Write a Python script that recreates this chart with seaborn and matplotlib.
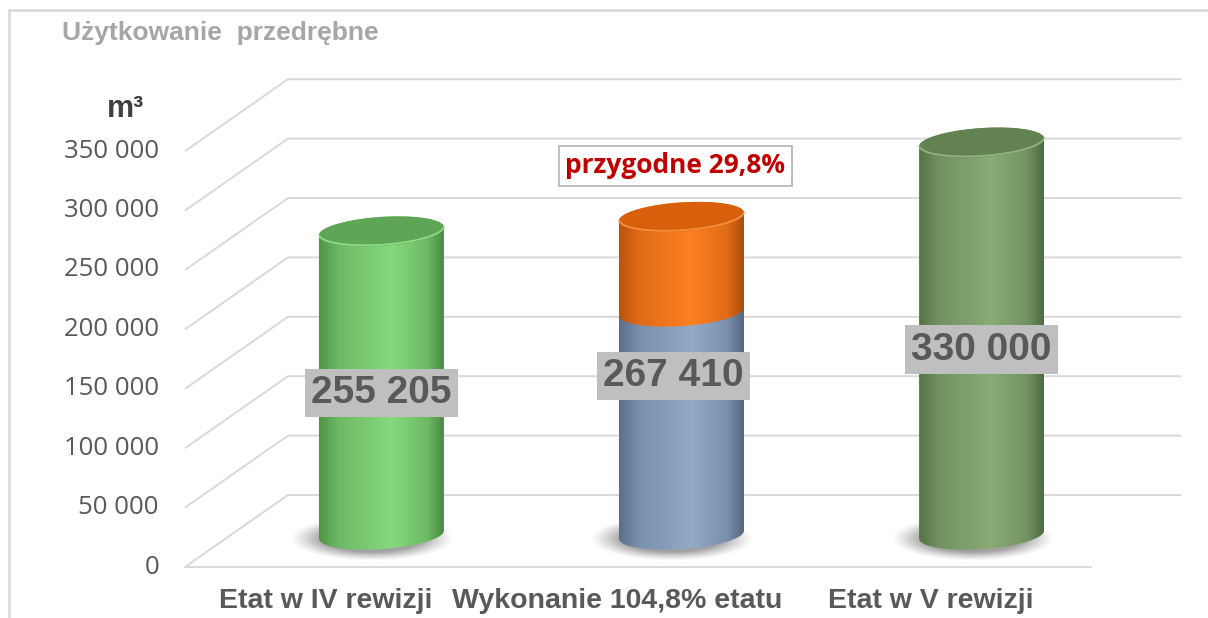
import numpy as np
import matplotlib
matplotlib.use("Agg")
import matplotlib.pyplot as plt
from matplotlib.patches import Polygon
from matplotlib.colors import LinearSegmentedColormap, to_rgb
from matplotlib.lines import Line2D
import seaborn as sns

# ---- data -------------------------------------------------------------
categories = ["Etat w IV rewizji", "Wykonanie 104,8% etatu", "Etat w V rewizji"]
totals = [255205, 267410, 330000]
value_labels = ["255 205", "267 410", "330 000"]
przygodne_share = 0.298          # share of the middle bar that is "przygodne"
callout_text = "przygodne 29,8%"
y_ticks = [0, 50000, 100000, 150000, 200000, 250000, 300000, 350000]
y_tick_labels = ["0", "50 000", "100 000", "150 000", "200 000",
                 "250 000", "300 000", "350 000"]
title_text = "Użytkowanie  przedrębne"
unit_text = "m³"

# ---- style ------------------------------------------------------------
sns.set_theme(style="white")
plt.rcParams["font.family"] = ["Liberation Sans", "DejaVu Sans"]

GRID = "#d9d9d9"
TEXT = "#595959"

# (edge, light, cap, rim) per cylinder segment
green_light = ("#4e9446", "#86d97d", "#5ea656", "#95e08c")
blue = ("#5a6f8c", "#93aac8", "#7389a8", "#a8bcd6")
orange = ("#b9520d", "#ff8021", "#d8600c", "#f7963f")
green_dark = ("#557446", "#88ac76", "#628251", "#97ba86")

# ---- 3-D oblique geometry (data units) -------------------------------
PX_PER_CAT = 302.0
PX_PER_VAL = 59.4 / 50000.0
DX, SHRINK, DV = 0.334, 0.986, 60600.0     # depth offset of the back wall
T_BAR = 0.45                               # depth of cylinder axes
RX = 62.5 / PX_PER_CAT                     # cylinder radius (x units)
RY = 14.5 / PX_PER_VAL                     # ellipse half height (value units)
SH = 4.0 / PX_PER_VAL                      # slight perspective tilt of ellipses


def depth(x, v, t):
    xb = DX + SHRINK * x
    return x + t * (xb - x), v + t * DV


def ell(cx, cv, th):
    return cx + RX * np.cos(th), cv + RY * np.sin(th) + SH * np.cos(th)


def make_cmap(edge, light):
    e, l = np.array(to_rgb(edge)), np.array(to_rgb(light))
    mid = e + 0.55 * (l - e)
    return LinearSegmentedColormap.from_list(
        "cyl", [(0, e), (0.16, mid), (0.58, l), (0.87, mid), (1, e * 0.92)])


def body(ax, cx, v0, v1, colors, z):
    tb = np.linspace(np.pi, 2 * np.pi, 90)
    tt = np.linspace(0, np.pi, 90)
    xb, yb = ell(cx, v0, tb)
    xt, yt = ell(cx, v1, tt)
    poly = Polygon(np.column_stack([np.r_[xb, xt], np.r_[yb, yt]]),
                   closed=True, facecolor="none", edgecolor="none")
    ax.add_patch(poly)
    grad = np.linspace(0, 1, 256)[None, :]
    im = ax.imshow(grad, cmap=make_cmap(colors[0], colors[1]),
                   extent=[cx - RX, cx + RX, v0 - RY - SH, v1 + RY + SH],
                   aspect="auto", origin="lower", zorder=z,
                   interpolation="bilinear")
    im.set_clip_path(poly)


def cap(ax, cx, v, colors, z):
    th = np.linspace(0, 2 * np.pi, 180)
    x, y = ell(cx, v, th)
    ax.add_patch(Polygon(np.column_stack([x, y]), closed=True,
                         facecolor=colors[2], edgecolor="none", zorder=z))
    th2 = np.linspace(np.pi * 1.02, np.pi * 1.98, 90)
    x2, y2 = ell(cx, v, th2)
    ax.plot(x2, y2 + 0.08 * RY, color=colors[3], lw=1.3, zorder=z + 0.1,
            alpha=0.9)


def shadow(ax, cx, v_base, z):
    a, b = 82.0 / PX_PER_CAT, 22.0 / PX_PER_VAL
    sx, sv = cx - 9.0 / PX_PER_CAT, v_base - 4.0 / PX_PER_VAL
    nx, ny = 200, 80
    gx = np.linspace(-1, 1, nx)
    gy = np.linspace(-1, 1, ny)
    X, Y = np.meshgrid(gx, gy)
    r = np.sqrt(X ** 2 + Y ** 2)
    alpha = 0.55 * np.clip((1.0 - r) / 0.4, 0, 1) ** 1.2
    rgba = np.zeros((ny, nx, 4))
    rgba[..., :3] = 0.33
    rgba[..., 3] = alpha
    ax.imshow(rgba, extent=[sx - a, sx + a, sv - b, sv + b], aspect="auto",
              origin="lower", zorder=z, interpolation="bilinear")


# ---- figure -----------------------------------------------------------
W, H = 1208, 618
fig = plt.figure(figsize=(W / 100, H / 100), dpi=100)
fig.patch.set_facecolor("white")
ax = fig.add_axes([0, 0, 1, 1])
ax.set_axis_off()
ax.set_autoscale_on(False)
xlim = (-336 / PX_PER_CAT, (W - 336) / PX_PER_CAT)
ylim = ((567 - H) / PX_PER_VAL, 567 / PX_PER_VAL)
ax.set_xlim(*xlim)
ax.set_ylim(*ylim)

# chart frame
fig.add_artist(Line2D([9 / W, 9 / W], [0, 1 - 10 / H], color=GRID, lw=1.8,
                      transform=fig.transFigure))
fig.add_artist(Line2D([9 / W, 1], [1 - 10 / H, 1 - 10 / H], color=GRID,
                      lw=1.8, transform=fig.transFigure))

# walls: side diagonals and back-wall gridlines, front floor edge
x_left, x_right = -0.5, len(categories) - 0.5
for v in y_ticks:
    f = depth(x_left, v, 0)
    b = depth(x_left, v, 1)
    e = depth(x_right, v, 1)
    ax.plot([f[0], b[0], e[0]], [f[1], b[1], e[1]], color=GRID, lw=1.4,
            zorder=1, solid_capstyle="butt")
ax.plot([x_left, x_right], [0, 0], color=GRID, lw=1.4, zorder=1)

# y tick labels on the front edge
for v, lab in zip(y_ticks, y_tick_labels):
    ax.annotate(lab, (x_left, v), xytext=(-26, 0), textcoords="offset pixels",
                ha="right", va="center", fontsize=18.5, color=TEXT,
                family=["Open Sans", "DejaVu Sans"])

# cylinders
splits = [None, totals[1] * (1 - przygodne_share), None]
styles = [green_light, None, green_dark]
centers = []
for i, tot in enumerate(totals):
    cx, v_base = depth(i, 0, T_BAR)
    centers.append(cx)
    shadow(ax, cx, v_base, 2)
    if splits[i] is None:
        body(ax, cx, v_base, v_base + tot, styles[i], 3)
        cap(ax, cx, v_base + tot, styles[i], 4)
    else:
        body(ax, cx, v_base, v_base + splits[i], blue, 3)
        body(ax, cx, v_base + splits[i], v_base + tot, orange, 3.5)
        cap(ax, cx, v_base + tot, orange, 4)

# value labels
label_shift = [(0, -10), (-8, 0), (0, -11)]
for i, tot in enumerate(totals):
    _, vmid = depth(i, tot / 2, T_BAR)
    ax.annotate(value_labels[i], (centers[i], vmid), xytext=label_shift[i],
                textcoords="offset pixels", ha="center", va="center",
                fontsize=28, fontweight="bold", color=TEXT, zorder=10,
                bbox=dict(boxstyle="square,pad=0.16", facecolor="#bfbfbf",
                          edgecolor="none"))

# callout for the "przygodne" part of the middle bar
_, vtop = depth(1, totals[1], T_BAR)
ax.annotate(callout_text, (centers[1], vtop), xytext=(-6, 51),
            textcoords="offset pixels", ha="center", va="center",
            fontsize=19, fontweight="bold", color="#c00000", zorder=10,
            family=["Open Sans", "DejaVu Sans"],
            bbox=dict(boxstyle="square,pad=0.25", facecolor="white",
                      edgecolor="#bfbfbf", lw=1.4))

# category labels
cat_shift = [-10, -21, -9]
for i, name in enumerate(categories):
    ax.annotate(name, (i, 0), xytext=(cat_shift[i], -34),
                textcoords="offset pixels", ha="center", va="center",
                fontsize=20.5, fontweight="bold", color=TEXT)

# title and unit
fig.text(62 / W, 1 - 33 / H, title_text, ha="left", va="center",
         fontsize=19, fontweight="bold", color="#a6a6a6")
fig.text(107 / W, 1 - 109 / H, unit_text, ha="left", va="center",
         fontsize=22, fontweight="bold", color="#404040")

fig.savefig("out.png", dpi=100, facecolor="white")
